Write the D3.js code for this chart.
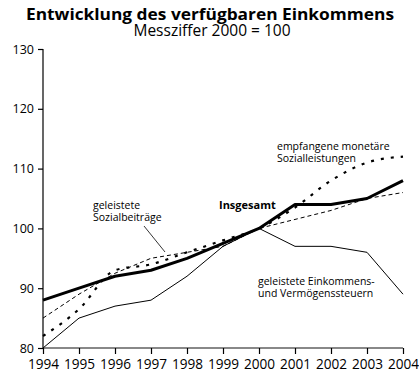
<!DOCTYPE html>
<html>
<head>
<meta charset="utf-8">
<script src="https://cdn.jsdelivr.net/npm/d3@7"></script>
<style>
  html, body { margin: 0; padding: 0; background: #fff; }
  svg { display: block; font-family: "Open Sans", "Noto Sans", sans-serif; }
</style>
</head>
<body>
<svg id="chart" width="419" height="375"></svg>
<script>
// Jahre und Messziffern (2000 = 100)
const years = [1994, 1995, 1996, 1997, 1998, 1999, 2000, 2001, 2002, 2003, 2004];
const insgesamt = [88, 90, 92, 93, 95, 97.5, 100, 104, 104, 105, 108];
const sozialleistungen = [82, 86.5, 93, 94, 96, 98, 100, 103.5, 108, 111, 112];
const sozialbeitraege = [85, 89, 92.5, 95, 96, 97, 100, 101.5, 103, 105, 106];
const steuern = [80, 85, 87, 88, 92, 97, 100, 97, 97, 96, 89];
const yTicks = [80, 90, 100, 110, 120, 130];

const svg = d3.select("#chart");
const x = d3.scaleLinear().domain([1994, 2004]).range([43, 403]);
const y = d3.scaleLinear().domain([80, 130]).range([348, 49]);

// Titel
svg.append("text").attr("x", 210).attr("y", 20).attr("text-anchor", "middle")
  .attr("font-size", 16).attr("font-weight", 700)
  .attr("textLength", 368).attr("lengthAdjust", "spacingAndGlyphs")
  .text("Entwicklung des verfügbaren Einkommens");
svg.append("text").attr("x", 212).attr("y", 36).attr("text-anchor", "middle")
  .attr("font-size", 15.5).text("Messziffer 2000 = 100");

// y-Achse
const yAxis = svg.append("g").attr("transform", "translate(43,0)")
  .call(d3.axisLeft(y).tickValues(yTicks).tickSize(5).tickPadding(4).tickFormat(d3.format("d")));
yAxis.select(".domain").attr("stroke", "#000").attr("stroke-width", 1.2).attr("d", `M0,${y(130)}V${y(80)}`);
yAxis.selectAll(".tick line").attr("stroke-width", 1.2);
yAxis.selectAll("text").attr("font-size", 12.5).attr("fill", "#000").attr("font-family", "Open Sans, sans-serif");

// x-Achse
const xAxis = svg.append("g").attr("transform", `translate(0,${y(80)})`)
  .call(d3.axisBottom(x).tickValues(years).tickSize(6).tickPadding(5).tickFormat(d3.format("d")));
xAxis.select(".domain").attr("stroke", "#888").attr("stroke-width", 2).attr("d", `M${x(1994)},0H${x(2004)}`);
xAxis.selectAll(".tick line").attr("stroke-width", 1.2);
xAxis.selectAll("text").attr("font-size", 13.6).attr("fill", "#000").attr("font-family", "Open Sans, sans-serif");

const line = d3.line().x((d, i) => x(years[i])).y(d => y(d));
const smooth = d3.line().x((d, i) => x(years[i])).y(d => y(d)).curve(d3.curveMonotoneX);

// Linien
svg.append("path").datum(steuern).attr("d", line)
  .attr("fill", "none").attr("stroke", "#000").attr("stroke-width", 1);
svg.append("path").datum(sozialbeitraege).attr("d", line)
  .attr("fill", "none").attr("stroke", "#000").attr("stroke-width", 1).attr("stroke-dasharray", "4,3");
svg.append("path").datum(sozialleistungen).attr("d", smooth)
  .attr("fill", "none").attr("stroke", "#000").attr("stroke-width", 2.2).attr("stroke-dasharray", "3,7");
svg.append("path").datum(insgesamt).attr("d", line)
  .attr("fill", "none").attr("stroke", "#000").attr("stroke-width", 3).attr("stroke-linejoin", "round");

// Beschriftungen
const lab = (tx, ty, lines, opts = {}) => {
  const t = svg.append("text").attr("x", tx).attr("y", ty).attr("font-size", opts.size || 10.5)
    .attr("font-weight", opts.weight || 400).attr("fill", "#000");
  lines.forEach((s, i) => t.append("tspan").attr("x", tx).attr("dy", i === 0 ? 0 : 12).text(s));
};
lab(219, 209, ["Insgesamt"], { weight: 700, size: 11 });
lab(277, 150, ["empfangene monetäre", "Sozialleistungen"]);
lab(93, 209, ["geleistete", "Sozialbeiträge"]);
lab(258, 285, ["geleistete Einkommens-", "und Vermögenssteuern"]);
svg.append("line").attr("x1", 144).attr("y1", 226).attr("x2", 165).attr("y2", 252)
  .attr("stroke", "#000").attr("stroke-width", 0.8);
</script>
</body>
</html>
